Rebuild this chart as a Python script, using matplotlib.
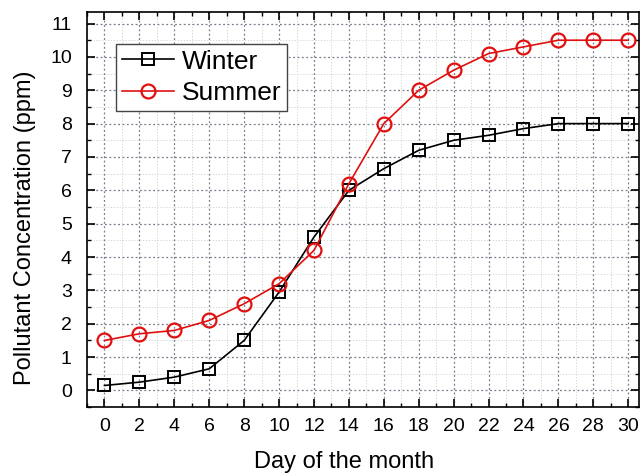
import numpy as np
import matplotlib.pyplot as plt
from matplotlib.ticker import MultipleLocator

plt.rcParams['font.family'] = ['Liberation Sans', 'DejaVu Sans']

days = [0, 2, 4, 6, 8, 10, 12, 14, 16, 18, 20, 22, 24, 26, 28, 30]
winter = [0.15, 0.25, 0.4, 0.65, 1.5, 2.95, 4.6, 6.0, 6.65, 7.2, 7.5, 7.65, 7.85, 8.0, 8.0, 8.0]
summer = [1.5, 1.7, 1.8, 2.1, 2.6, 3.2, 4.2, 6.2, 8.0, 9.0, 9.6, 10.1, 10.3, 10.5, 10.5, 10.5]

fig = plt.figure(figsize=(6.4, 4.74), dpi=100)
ax = fig.add_axes([0.136, 0.141, 0.862, 0.834])

ax.plot(days, winter, color='black', marker='s', markersize=8, markerfacecolor='none',
        markeredgewidth=1.4, linewidth=1.2, label='Winter')
ax.plot(days, summer, color='#e01010', marker='o', markersize=10, markerfacecolor='none',
        markeredgewidth=1.6, linewidth=1.2, label='Summer')

ax.set_xlim(-1, 30.6)
ax.set_ylim(-0.5, 11.35)
ax.xaxis.set_major_locator(MultipleLocator(2))
ax.xaxis.set_minor_locator(MultipleLocator(1))
ax.yaxis.set_major_locator(MultipleLocator(1))
ax.yaxis.set_minor_locator(MultipleLocator(0.5))

ax.grid(which='major', color='#7a7a8a', linestyle=(0, (1.5, 2)), linewidth=0.9)
ax.grid(which='minor', color='#c8d4c8', linestyle=(0, (1.5, 2)), linewidth=0.6)
ax.set_axisbelow(True)

ax.tick_params(which='both', direction='in', top=True, right=True, labelsize=14)
ax.tick_params(axis='x', which='major', pad=8)
ax.tick_params(axis='y', which='major', pad=11)
ax.tick_params(which='major', length=6, width=1.2)
ax.tick_params(which='minor', length=3, width=1.0)
for s in ax.spines.values():
    s.set_linewidth(1.2)

ax.set_xlabel('Day of the month', fontsize=17)
ax.set_ylabel('Pollutant Concentration (ppm)', fontsize=17)
ax.xaxis.set_label_coords(0.466, -0.112)
ax.yaxis.set_label_coords(-0.092, 0.453)

leg = ax.legend(loc='upper left', bbox_to_anchor=(0.053, 0.918), borderaxespad=0,
                fontsize=19, fancybox=False, edgecolor='#444444', framealpha=1,
                handlelength=2.0, borderpad=0.2, labelspacing=0.3, handletextpad=0.3)
leg.get_frame().set_linewidth(1.0)

plt.savefig('out.png')
